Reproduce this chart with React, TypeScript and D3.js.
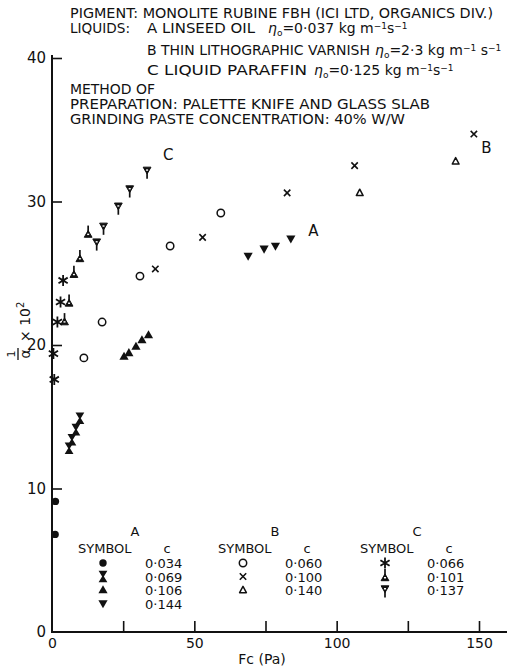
import { useEffect, useRef } from "react";
import * as d3 from "d3";

// Fc (Pa) vs 1/alpha x 10^2
const a034 = [{ fc: 1.2, v: 9.1 }, { fc: 1.1, v: 6.8 }];
const a069 = [{ fc: 6.0, v: 12.8 }, { fc: 7.0, v: 13.4 }, { fc: 8.4, v: 14.1 }, { fc: 9.8, v: 14.9 }];
const a106 = [{ fc: 25.3, v: 19.2 }, { fc: 27.0, v: 19.45 }, { fc: 29.5, v: 19.9 }, { fc: 31.6, v: 20.35 }, { fc: 33.9, v: 20.7 }];
const a144 = [{ fc: 68.9, v: 26.2 }, { fc: 74.5, v: 26.7 }, { fc: 78.5, v: 26.9 }, { fc: 83.9, v: 27.4 }];
const b060 = [{ fc: 11.2, v: 19.1 }, { fc: 17.6, v: 21.6 }, { fc: 30.9, v: 24.8 }, { fc: 41.5, v: 26.9 }, { fc: 59.3, v: 29.2 }];
const b100 = [{ fc: 36.3, v: 25.3 }, { fc: 52.9, v: 27.5 }, { fc: 82.6, v: 30.6 }, { fc: 106.3, v: 32.5 }, { fc: 148.2, v: 34.7 }];
const b140 = [{ fc: 108.1, v: 30.6 }, { fc: 141.8, v: 32.8 }];
const c066 = [{ fc: 0.5, v: 19.4 }, { fc: 0.8, v: 17.6 }, { fc: 1.9, v: 21.6 }, { fc: 3.0, v: 23.0 }, { fc: 3.9, v: 24.5 }];
const c101 = [{ fc: 4.4, v: 21.7 }, { fc: 6.0, v: 23.0 }, { fc: 7.7, v: 25.0 }, { fc: 9.8, v: 26.1 }, { fc: 12.7, v: 27.8 }];
const c137 = [{ fc: 15.7, v: 27.1 }, { fc: 18.1, v: 28.2 }, { fc: 23.3, v: 29.6 }, { fc: 27.3, v: 30.8 }, { fc: 33.4, v: 32.1 }];

const groups = ["A", "B", "C"];
const series = [
  { group: "A", c: "0·034", marker: "dot", points: a034 },
  { group: "A", c: "0·069", marker: "hourglass", points: a069 },
  { group: "A", c: "0·106", marker: "up", points: a106 },
  { group: "A", c: "0·144", marker: "down", points: a144 },
  { group: "B", c: "0·060", marker: "ring", points: b060 },
  { group: "B", c: "0·100", marker: "cross", points: b100 },
  { group: "B", c: "0·140", marker: "openUp", points: b140 },
  { group: "C", c: "0·066", marker: "star", points: c066 },
  { group: "C", c: "0·101", marker: "stemUp", points: c101 },
  { group: "C", c: "0·137", marker: "stemDown", points: c137 },
];
// curve labels, placed next to the last point of each liquid
const curveLabels = [
  { name: "A", fc: 90, v: 27.6 },
  { name: "B", fc: 150.8, v: 33.4 },
  { name: "C", fc: 39, v: 32.9 },
];
const xTicks = [25, 50, 75, 100, 125, 150];
const xLabels = [0, 50, 100, 150];
const yTicks = [10, 20, 30, 40];
const yLabels = [0, 10, 20, 30, 40];

const ink = "#111";
const font = "'DejaVu Sans', sans-serif";

const x = d3.scaleLinear().domain([0, 150]).range([52, 479]);
const y = d3.scaleLinear().domain([0, 40]).range([632, 58]);

const Marker = ({ type, cx, cy }: { type: string; cx: number; cy: number }) => {
  const t = `translate(${cx},${cy})`;
  switch (type) {
    case "dot":
      return <circle cx={cx} cy={cy} r={3.7} fill={ink} />;
    case "ring":
      return <circle cx={cx} cy={cy} r={3.7} fill="white" stroke={ink} strokeWidth={1.5} />;
    case "hourglass":
      return <path transform={t} d="M-4.4,-5.8H4.4L0.9,0L4.4,5.8H-4.4L-0.9,0Z" fill={ink} />;
    case "up":
      return <path transform={t} d="M0,-4.8L4.6,3.3H-4.6Z" fill={ink} />;
    case "down":
      return <path transform={t} d="M0,4.8L4.6,-3.3H-4.6Z" fill={ink} />;
    case "openUp":
      return <path transform={t} d="M0,-3.7L3.4,2.7H-3.4Z" fill="white" stroke={ink} strokeWidth={1.5} strokeLinejoin="round" />;
    case "cross":
      return (
        <path transform={t} d="M-3.2,-3.2L3.2,3.2M-3.2,3.2L3.2,-3.2" stroke={ink} strokeWidth={1.6} fill="none" />
      );
    case "star":
      return (
        <path transform={t} d="M0,-5.5V5.5M-4.6,-2.8L4.6,2.8M-4.6,2.8L4.6,-2.8" stroke={ink} strokeWidth={1.8} fill="none" />
      );
    case "stemUp":
      return (
        <g transform={t}>
          <path d="M0,-2.6L3.9,4.2H-3.9Z" fill={ink} stroke={ink} strokeWidth={1} strokeLinejoin="round" />
          <path d="M0,-7.5V1" stroke={ink} strokeWidth={1.7} />
          <path d="M-1,1.3L1,1.3" stroke="white" strokeWidth={1.4} />
        </g>
      );
    case "stemDown":
      return (
        <g transform={t}>
          <path d="M0,2.6L3.9,-4.2H-3.9Z" fill={ink} stroke={ink} strokeWidth={1} strokeLinejoin="round" />
          <path d="M0,7.5V-1" stroke={ink} strokeWidth={1.7} />
          <path d="M-1,-1.3L1,-1.3" stroke="white" strokeWidth={1.4} />
        </g>
      );
    default:
      return null;
  }
};

const Eta = ({ x0, yb, value, gap }: { x0: number; yb: number; value: string; gap?: boolean }) => (
  <text x={x0} y={yb} fontSize={14} fontFamily={font} fill={ink}>
    <tspan fontStyle="italic">η</tspan>
    <tspan dy={3} fontSize={9}>o</tspan>
    <tspan dy={-3}>{`=${value} kg m`}</tspan>
    <tspan dy={-4} fontSize={9}>−1</tspan>
    <tspan dy={4}>{gap ? " s" : "s"}</tspan>
    <tspan dy={-4} fontSize={9}>−1</tspan>
  </text>
);

const headerLines = [
  { text: "PIGMENT: MONOLITE RUBINE FBH (ICI LTD, ORGANICS DIV.)", x0: 70, x1: 493, yb: 18 },
  { text: "LIQUIDS:", x0: 70, x1: 130, yb: 33 },
  { text: "A LINSEED OIL", x0: 147, x1: 255, yb: 33 },
  { text: "B THIN LITHOGRAPHIC VARNISH", x0: 147, x1: 370, yb: 55 },
  { text: "C LIQUID PARAFFIN", x0: 147, x1: 307, yb: 75 },
  { text: "METHOD OF", x0: 70, x1: 155, yb: 94 },
  { text: "PREPARATION: PALETTE KNIFE AND GLASS SLAB", x0: 70, x1: 430, yb: 109 },
  { text: "GRINDING PASTE CONCENTRATION: 40% W/W", x0: 70, x1: 405, yb: 124 },
];

export default function App() {
  const ref = useRef<SVGSVGElement>(null);

  useEffect(() => {
    const svg = d3.select(ref.current);
    const xTickAxis = d3.axisTop(x).tickValues(xTicks).tickSize(11).tickSizeOuter(0).tickFormat(() => "");
    const xLabelAxis = d3.axisBottom(x).tickValues(xLabels).tickSize(0).tickPadding(4).tickFormat(d3.format("d"));
    const yTickAxis = d3.axisRight(y).tickValues(yTicks).tickSize(10).tickSizeOuter(0).tickFormat(() => "");
    const yLabelAxis = d3.axisLeft(y).tickValues(yLabels).tickSize(0).tickPadding(5).tickFormat(d3.format("d"));

    svg.select<SVGGElement>("g.x-ticks").call(xTickAxis);
    svg.select<SVGGElement>("g.x-labels").call(xLabelAxis);
    svg.select<SVGGElement>("g.y-ticks").call(yTickAxis);
    svg.select<SVGGElement>("g.y-labels").call(yLabelAxis);

    svg.selectAll(".domain").remove();
    svg.selectAll(".tick line").attr("stroke", ink).attr("stroke-width", 1.6);
    svg.selectAll(".x-labels .tick text").attr("font-size", 14).attr("font-family", font).attr("fill", ink);
    svg.selectAll(".y-labels .tick text").attr("font-size", 15).attr("font-family", font).attr("fill", ink);
  }, []);

  const legendX = { A: 103, B: 243, C: 385 } as Record<string, number>;

  return (
    <svg ref={ref} width={507} height={667} style={{ position: "absolute", left: 0, top: 0, background: "white" }}>
      <rect width={507} height={667} fill="white" />

      {headerLines.map((h) => (
        <text key={h.text} x={h.x0} y={h.yb} fontSize={14} fontFamily={font} fill={ink}
          textLength={h.x1 - h.x0} lengthAdjust="spacingAndGlyphs">{h.text}</text>
      ))}
      <Eta x0={268} yb={33} value="0·037" />
      <Eta x0={375} yb={55} value="2·3" gap />
      <Eta x0={314} yb={75} value="0·125" />

      {/* axes */}
      <line x1={x(0)} x2={x(0)} y1={y(0) + 1} y2={55} stroke={ink} strokeWidth={2} />
      <line x1={x(0) - 1} x2={507} y1={y(0)} y2={y(0)} stroke={ink} strokeWidth={2} />
      <g className="x-ticks" transform={`translate(0,${y(0)})`} />
      <g className="x-labels" transform={`translate(0,${y(0) + 2})`} />
      <g className="y-ticks" transform={`translate(${x(0)},0)`} />
      <g className="y-labels" transform={`translate(${x(0) - 1},0)`} />

      <text x={262} y={664} textAnchor="middle" fontSize={14} fontFamily={font} fill={ink}>Fc (Pa)</text>

      {/* y label: 1/alpha x 10^2 */}
      <g transform="translate(27,337) rotate(-90)" fontFamily={font} fill={ink}>
        <text x={-17} y={-12} textAnchor="middle" fontSize={11}>1</text>
        <line x1={-23} x2={-11} y1={-9} y2={-9} stroke={ink} strokeWidth={1.3} />
        <text x={-17} y={3} textAnchor="middle" fontSize={14}>α</text>
        <text x={-5} y={3} fontSize={14}>
          × 10<tspan dy={-6} fontSize={10}>2</tspan>
        </text>
      </g>

      {/* data */}
      {series.map((s) =>
        s.points.map((p, i) => (
          <Marker key={`${s.group}${s.c}${i}`} type={s.marker} cx={x(p.fc)} cy={y(p.v)} />
        ))
      )}
      {curveLabels.map((l) => (
        <text key={l.name} x={x(l.fc)} y={y(l.v)} fontSize={15} fontFamily={font} fill={ink}>{l.name}</text>
      ))}

      {/* legend */}
      {groups.map((g) => {
        const gx = legendX[g];
        const rows = series.filter((s) => s.group === g);
        return (
          <g key={g} fontFamily={font} fill={ink} fontSize={13}>
            <text x={gx + 32} y={536} textAnchor="middle">{g}</text>
            <text x={gx - 25} y={553}>SYMBOL</text>
            <text x={gx + 64} y={553} textAnchor="middle">c</text>
            {rows.map((s, i) => (
              <g key={s.c}>
                <Marker type={s.marker} cx={gx} cy={563 + i * 13.5} />
                <text x={gx + 42} y={568 + i * 13.5}>{s.c}</text>
              </g>
            ))}
          </g>
        );
      })}
    </svg>
  );
}
